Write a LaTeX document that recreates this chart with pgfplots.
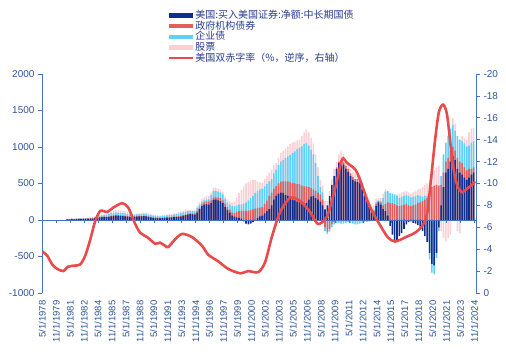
\documentclass[border=0pt]{standalone}
\usepackage{pgfplots}
\usepackage{pgfplotstable}
\pgfplotsset{compat=1.18}
\usepackage{fontspec}
\setmainfont{Liberation Sans}
\newfontfamily\cjk{Noto Sans CJK SC}
\definecolor{axblue}{RGB}{68,114,196}
\definecolor{lblblue}{RGB}{47,85,151}
\definecolor{legtext}{RGB}{40,62,140}
\definecolor{navy}{RGB}{16,46,140}
\definecolor{agency}{RGB}{228,94,94}
\definecolor{corp}{RGB}{95,208,250}
\definecolor{equity}{RGB}{250,208,212}
\definecolor{defline}{RGB}{230,76,76}

% cumulative visible extents of each layer (bn USD): T treasury, A +agency, C +corporate, E +equity
\pgfplotstableread{
x T A C E
1981.00 8 10 14 16
1981.25 10 12 16 19
1981.50 12 14 18 21
1981.75 10 13 17 20
1982.00 12 15 20 24
1982.25 14 17 22 26
1982.50 12 16 21 25
1982.75 14 18 24 28
1983.00 15 19 25 30
1983.25 17 21 28 33
1983.50 18 22 30 36
1983.75 20 24 33 40
1984.00 25 30 40 48
1984.25 30 35 48 56
1984.50 35 40 55 65
1984.75 38 44 62 72
1985.00 40 48 70 82
1985.25 38 46 75 90
1985.50 42 50 85 102
1985.75 48 56 95 115
1986.00 55 62 100 125
1986.25 60 68 105 135
1986.50 58 66 100 132
1986.75 55 62 98 130
1987.00 52 60 95 128
1987.25 50 58 92 120
1987.50 45 52 85 110
1987.75 40 46 75 90
1988.00 38 44 70 82
1988.25 42 48 72 84
1988.50 45 52 78 88
1988.75 48 55 82 92
1989.00 50 56 85 98
1989.25 52 58 88 102
1989.50 48 55 85 100
1989.75 42 48 78 92
1990.00 35 42 68 80
1990.25 30 36 60 72
1990.50 28 34 55 66
1990.75 25 32 52 62
1991.00 22 30 50 60
1991.25 25 32 55 66
1991.50 28 35 60 72
1991.75 30 38 62 75
1992.00 32 40 65 80
1992.25 35 43 70 85
1992.50 38 46 75 92
1992.75 40 50 80 98
1993.00 42 52 88 108
1993.25 45 56 95 118
1993.50 55 66 105 128
1993.75 65 76 115 138
1994.00 75 86 120 140
1994.25 80 90 122 140
1994.50 78 90 120 138
1994.75 75 88 118 135
1995.00 100 120 165 190
1995.25 150 170 210 240
1995.50 190 215 250 290
1995.75 210 240 270 310
1996.00 215 255 280 325
1996.25 210 250 282 330
1996.50 230 270 340 380
1996.75 275 305 395 440
1997.00 280 310 400 445
1997.25 270 305 390 430
1997.50 260 300 380 420
1997.75 230 270 350 390
1998.00 180 220 290 320
1998.25 140 175 240 280
1998.50 100 140 210 250
1998.75 60 100 190 240
1999.00 45 95 185 250
1999.25 35 110 200 310
1999.50 30 120 210 370
1999.75 20 125 215 410
2000.00 -20 125 225 460
2000.25 -50 125 240 500
2000.50 -60 130 270 520
2000.75 -50 140 300 540
2001.00 -30 145 330 550
2001.25 0 155 370 545
2001.50 30 165 400 530
2001.75 50 170 420 515
2002.00 60 175 430 510
2002.25 90 220 460 560
2002.50 120 265 490 600
2002.75 150 330 530 650
2003.00 200 375 560 690
2003.25 280 430 640 750
2003.50 330 465 690 780
2003.75 360 500 750 850
2004.00 375 525 800 920
2004.25 370 530 820 950
2004.50 340 530 850 980
2004.75 330 530 870 1010
2005.00 300 520 890 1040
2005.25 280 510 920 1060
2005.50 270 500 940 1070
2005.75 250 490 970 1090
2006.00 240 490 990 1100
2006.25 230 470 1010 1150
2006.50 220 460 1040 1200
2006.75 230 460 1060 1240
2007.00 280 450 1020 1200
2007.25 320 440 960 1120
2007.50 330 420 900 1050
2007.75 300 400 780 900
2008.00 280 375 600 720
2008.25 250 350 450 550
2008.50 200 280 380 470
2008.75 145 -100 -150 260
2009.00 200 -160 -190 260
2009.25 330 -120 -160 400
2009.50 480 -60 -100 560
2009.75 600 -30 -60 700
2010.00 700 720 -40 800
2010.25 780 800 -40 900
2010.50 800 820 -50 940
2010.75 760 790 -50 900
2011.00 700 740 -40 820
2011.25 660 700 -30 760
2011.50 600 640 -40 700
2011.75 550 590 -50 660
2012.00 530 560 -60 640
2012.25 520 560 -60 640
2012.50 500 530 -50 600
2012.75 420 450 -40 520
2013.00 330 360 -30 420
2013.25 260 300 -30 370
2013.50 180 230 -20 300
2013.75 100 150 120 220
2014.00 100 130 140 200
2014.25 190 220 240 290
2014.50 240 260 270 300
2014.75 210 240 260 300
2015.00 150 200 300 360
2015.25 120 220 390 420
2015.50 60 240 400 380
2015.75 -80 230 370 350
2016.00 -200 230 360 330
2016.25 -300 220 350 330
2016.50 -280 200 330 350
2016.75 -220 190 300 360
2017.00 -180 200 320 380
2017.25 -120 210 330 390
2017.50 -60 220 340 400
2017.75 -30 200 330 380
2018.00 -20 190 310 360
2018.25 -40 200 320 380
2018.50 -50 210 330 400
2018.75 -70 230 340 420
2019.00 -90 240 330 430
2019.25 -150 260 320 450
2019.50 -220 280 330 480
2019.75 -300 300 330 500
2020.00 -450 380 -540 550
2020.25 -600 450 -720 620
2020.50 -620 470 -740 680
2020.75 -450 480 -520 720
2021.00 -100 470 -150 740
2021.25 200 480 600 -150
2021.50 450 650 900 -250
2021.75 650 800 1060 -290
2022.00 700 850 1150 -250
2022.25 800 950 1250 -200
2022.50 870 1000 1300 1400
2022.75 820 950 1220 1320
2023.00 700 850 1150 -150
2023.25 650 800 1100 -180
2023.50 620 780 1080 1150
2023.75 580 720 1050 1120
2024.00 550 680 1010 1100
2024.25 580 700 1020 1200
2024.50 620 700 1060 1250
2024.75 650 720 1080 1260
}\bars

\begin{document}
\begin{tikzpicture}[x=1pt,y=1pt]
\useasboundingbox (0,0) rectangle (506,352);
\pgfplotsset{
  base/.style={
    scale only axis, width=434pt, height=219pt,
    at={(42pt,59pt)}, anchor=south west,
    xmin=1978.3, xmax=2025.0,
    /pgf/number format/assume math mode=true,
    /pgf/number format/1000 sep={},
    tick label style={font=\fontsize{10}{12}\selectfont, text=lblblue},
    tick align=outside,
  },
  xt/.style={
    xtick={1978.333,1979.833,1981.333,1982.833,1984.333,1985.833,1987.333,1988.833,1990.333,1991.833,1993.333,1994.833,1996.333,1997.833,1999.333,2000.833,2002.333,2003.833,2005.333,2006.833,2008.333,2009.833,2011.333,2012.833,2014.333,2015.833,2017.333,2018.833,2020.333,2021.833,2023.333,2024.833},
  },
}
% bars
\begin{axis}[base, xt,
  ymin=-1000, ymax=2000, ytick={-1000,-500,...,2000},
  axis y line*=left, axis x line*=bottom,
  x axis line style={draw=none},
  y axis line style={axblue, line width=0.8pt},
  ytick style={axblue, line width=0.6pt}, major tick length=4pt,
  xtick style={draw=none},
  xticklabels={5/1/1978,11/1/1979,5/1/1981,11/1/1982,5/1/1984,11/1/1985,5/1/1987,11/1/1988,5/1/1990,11/1/1991,5/1/1993,11/1/1994,5/1/1996,11/1/1997,5/1/1999,11/1/2000,5/1/2002,11/1/2003,5/1/2005,11/1/2006,5/1/2008,11/1/2009,5/1/2011,11/1/2012,5/1/2014,11/1/2015,5/1/2017,11/1/2018,5/1/2020,11/1/2021,5/1/2023,11/1/2024},
  xticklabel style={rotate=90, anchor=east, font=\fontsize{9.5}{11}\selectfont},
  ybar, bar width=0.17,
]
\addplot[fill=equity, draw=none, bar shift=0pt] table[x=x,y=E]{\bars};
\addplot[fill=corp, draw=none, bar shift=0pt] table[x=x,y=C]{\bars};
\addplot[fill=agency, draw=none, bar shift=0pt] table[x=x,y=A]{\bars};
\addplot[fill=navy, draw=none, bar shift=0pt] table[x=x,y=T]{\bars};
\end{axis}
% zero line with ticks
\begin{axis}[base, xt, ymin=-1000, ymax=2000,
  axis y line=none, axis x line*=middle,
  x axis line style={axblue, line width=0.8pt},
  xticklabels={}, major tick length=3pt,
  xtick style={axblue, line width=0.6pt},
]
\addplot[draw=none] coordinates {(1980,0)};
\end{axis}
% right axis: deficit
\begin{axis}[base,
  ymin=-20, ymax=0, y dir=reverse, ytick={-20,-18,...,0},
  axis y line*=right, axis x line=none,
  y axis line style={axblue, line width=0.8pt},
  ytick style={axblue, line width=0.6pt}, major tick length=4pt,
  legend cell align=left,
  legend image code/.code={\draw[#1] (0pt,0pt) -- (24pt,0pt);},
  legend style={at={(0.279,1.301)}, anchor=north west, draw=none, fill=none,
    font=\cjk\fontsize{10}{11}\selectfont, text=legtext, row sep=0pt,
    nodes={inner sep=0.6pt, text height=7.8pt, text depth=1.6pt}},
]
\addlegendimage{navy, line width=4.5pt}
\addlegendentry{美国:买入美国证券:净额:中长期国债}
\addlegendimage{agency, line width=4.5pt}
\addlegendentry{政府机构债券}
\addlegendimage{corp, line width=4.5pt}
\addlegendentry{企业债}
\addlegendimage{equity, line width=4.5pt}
\addlegendentry{股票}
\addlegendimage{defline, line width=1.6pt}
\addlegendentry{美国双赤字率（\%，逆序，右轴）}
\addplot[defline, line width=2.6pt, smooth, tension=0.45, forget plot] coordinates {
(1978.33,-3.8) (1978.87,-3.4) (1979.4,-2.6) (1979.94,-2.2) (1980.59,-2.0) (1981.1,-2.4) (1981.77,-2.5) (1982.4,-2.6) (1982.95,-3.4) (1983.5,-4.9) (1984.0,-6.5) (1984.57,-7.5) (1985.3,-7.4) (1985.97,-7.8) (1986.93,-8.2) (1987.58,-7.8) (1988.33,-6.3) (1988.87,-5.5) (1989.62,-5.1) (1990.48,-4.5) (1991.0,-4.6) (1991.56,-4.3) (1991.88,-4.2) (1992.63,-4.9) (1993.38,-5.4) (1994.46,-5.1) (1995.53,-4.3) (1996.18,-3.5) (1997.25,-2.9) (1998.33,-2.2) (1999.62,-1.8) (2000.48,-2.0) (2001.56,-1.9) (2002.3,-2.8) (2003.06,-5.2) (2003.92,-7.4) (2005.0,-8.7) (2006.07,-8.4) (2007.15,-7.4) (2008.0,-6.3) (2008.97,-7.0) (2009.83,-9.5) (2010.59,-12.2) (2011.1,-11.9) (2011.99,-11.3) (2012.5,-10.4) (2013.28,-8.5) (2013.8,-7.5) (2014.46,-6.5) (2015.5,-5.1) (2016.3,-4.7) (2017.69,-5.2) (2018.44,-5.5) (2019.19,-6.1) (2019.73,-7.2) (2020.16,-10.4) (2020.6,-14.0) (2021.0,-16.5) (2021.45,-17.2) (2021.88,-16.3) (2022.4,-12.5) (2022.74,-10.6) (2023.1,-9.6) (2023.5,-9.2) (2024.0,-9.5) (2024.6,-9.9) (2024.9,-10.2)
};
\end{axis}
\end{tikzpicture}
\end{document}
